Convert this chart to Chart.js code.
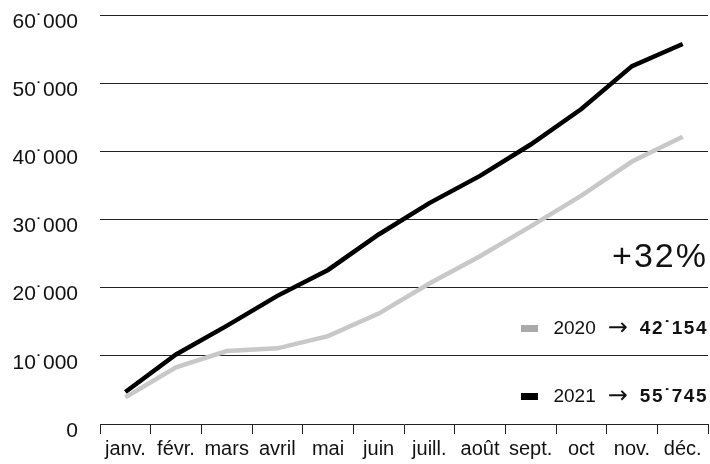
<!DOCTYPE html>
<html>
<head>
<meta charset="utf-8">
<script src="https://cdn.jsdelivr.net/npm/chart.js@4"></script>
<style>
  body { margin: 0; background: #fff; }
  #wrap { position: relative; width: 710px; height: 464px; font-family: "Liberation Sans", Arial, sans-serif; color: #111; }
  .note { position: absolute; white-space: nowrap; line-height: 1; }
  .sw { display: inline-block; width: 17px; height: 7px; vertical-align: middle; margin-right: 15px; }
  .val { font-weight: bold; letter-spacing: 1.5px; }
  .arr { font-family: "DejaVu Sans", sans-serif; font-size: 24px; margin: 0 12px 0 12px; vertical-align: -1px; }
</style>
</head>
<body>
<div id="wrap">
  <canvas id="myChart" width="710" height="464"></canvas>
  <div class="note" id="pct" style="right:2px; top:238px; font-size:34px; letter-spacing:2px;"></div>
  <div class="note" id="row2020" style="right:2px; top:315px; font-size:19px;"></div>
  <div class="note" id="row2021" style="right:2px; top:383px; font-size:19px;"></div>
</div>
<script>
const months = ['janv.', 'févr.', 'mars', 'avril', 'mai', 'juin', 'juill.', 'août', 'sept.', 'oct', 'nov.', 'déc.'];
const y2020 = [3900, 8300, 10700, 11100, 12900, 16200, 20600, 24600, 29000, 33500, 38500, 42154];
const y2021 = [4700, 10200, 14400, 18800, 22600, 27800, 32400, 36400, 41000, 46200, 52500, 55745];
const yTicks = [0, 10000, 20000, 30000, 40000, 50000, 60000];

const fmt = v => String(v).replace(/\B(?=(\d{3})+(?!\d))/g, '˙');

const last20 = y2020[y2020.length - 1];
const last21 = y2021[y2021.length - 1];
document.getElementById('pct').textContent = '+' + Math.round((last21 / last20 - 1) * 100) + '%';
document.getElementById('row2020').innerHTML = '<span class="sw" style="background:#aaa"></span>2020<span class="arr">→</span><span class="val">' + fmt(last20) + '</span>';
document.getElementById('row2021').innerHTML = '<span class="sw" style="background:#000"></span>2021<span class="arr">→</span><span class="val">' + fmt(last21) + '</span>';

Chart.defaults.font.family = '"Liberation Sans", Arial, sans-serif';
Chart.defaults.color = '#111';

const myChart = new Chart('myChart', {
    type: 'line',
    data: {
        labels: months,
        datasets: [{
            label: '2020',
            data: y2020,
            borderColor: '#c8c8c8',
            borderWidth: 4.5,
            pointRadius: 0,
            tension: 0
        }, {
            label: '2021',
            data: y2021,
            borderColor: '#000',
            borderWidth: 4.5,
            pointRadius: 0,
            tension: 0
        }]
    },
    options: {
        responsive: false,
        animation: false,
        layout: { padding: { top: 0, right: 2, left: 0, bottom: 0 } },
        plugins: { legend: { display: false }, tooltip: { enabled: false } },
        scales: {
            x: {
                offset: true,
                grid: { offset: true, drawOnChartArea: false, drawTicks: true, tickLength: 10, color: '#222', lineWidth: 1 },
                border: { display: true, color: '#222', width: 1 },
                ticks: { font: { size: 20, lineHeight: 0.8 }, padding: 7, maxRotation: 0, autoSkip: false }
            },
            y: {
                min: 0,
                max: 60000,
                afterFit: s => { s.width = 100; s.paddingTop = 15; },
                afterBuildTicks: s => { s.ticks = yTicks.map(v => ({ value: v })); },
                grid: { drawTicks: false, color: ctx => ctx.tick && ctx.tick.value === 0 ? 'rgba(0,0,0,0)' : '#222', lineWidth: 1 },
                border: { display: false },
                ticks: { font: { size: 21, lineHeight: 0.5 }, padding: 22, labelOffset: 7, callback: v => fmt(v) }
            }
        }
    }
});
</script>
</body>
</html>
